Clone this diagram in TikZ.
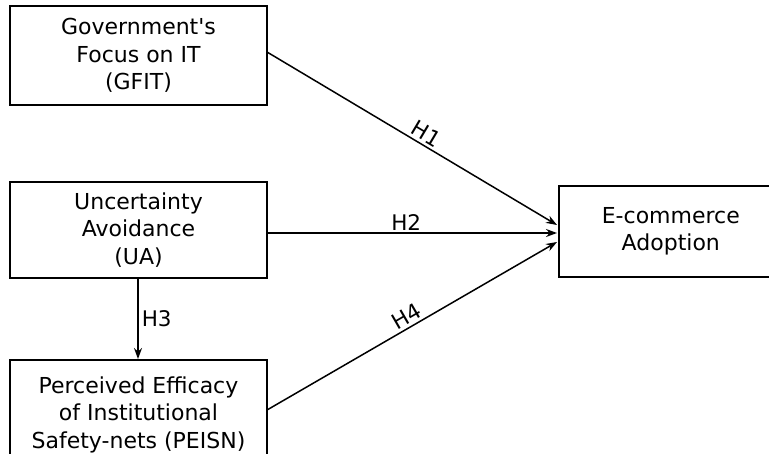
\documentclass[tikz,border=0pt]{standalone}
\usepackage{fontspec}
\setmainfont{DejaVu Sans}
\usetikzlibrary{arrows.meta}
\begin{document}
\begin{tikzpicture}[x=1pt,y=-1pt,
  box/.style={draw,line width=1.6pt,inner sep=0pt,align=center,font=\fontsize{22}{27.5}\selectfont},
  conn/.style={line width=1.5pt,-{Stealth[length=11pt,width=8pt]}},
  lbl/.style={font=\fontsize{21.5}{25}\selectfont}]
\useasboundingbox (0,0) rectangle (769,454);
\clip (0,0) rectangle (769,454);
\fill[white] (0,0) rectangle (769,454);
\node[box,minimum width=257pt,minimum height=99pt] (gfit) at (138.5,55.5) {Government\textquotesingle s\\Focus on IT\\(GFIT)};
\node[box,minimum width=257pt,minimum height=96pt] (ua) at (138.5,230) {Uncertainty\\Avoidance\\(UA)};
\node[box,minimum width=257pt,minimum height=110pt,anchor=north] (peisn) at (138.5,359) {Perceived Efficacy\\of Institutional\\Safety-nets (PEISN)};
\node[box,minimum width=224pt,minimum height=91pt,anchor=north west,text width=224pt] (ec) at (558,185) {E-commerce\\Adoption};
\coordinate (a1) at (267,52);
\coordinate (b1) at (557,225);
\coordinate (a2) at (267,233);
\coordinate (b2) at (557,233);
\coordinate (a4) at (267,410);
\coordinate (b4) at (557,242);
\coordinate (a3) at (138,278);
\coordinate (b3) at (138,359);
\draw[conn] (a1) -- node[lbl,sloped,above,pos=0.53,inner sep=3pt] (h1) {H1} (b1);
\draw[conn] (a2) -- node[lbl,above,pos=0.48,inner sep=2pt] (h2) {H2} (b2);
\draw[conn] (a4) -- node[lbl,sloped,above,pos=0.5,inner sep=3pt] (h4) {H4} (b4);
\draw[conn] (a3) -- node[lbl,right,pos=0.5,inner sep=3pt] (h3) {H3} (b3);
\end{tikzpicture}
\end{document}
